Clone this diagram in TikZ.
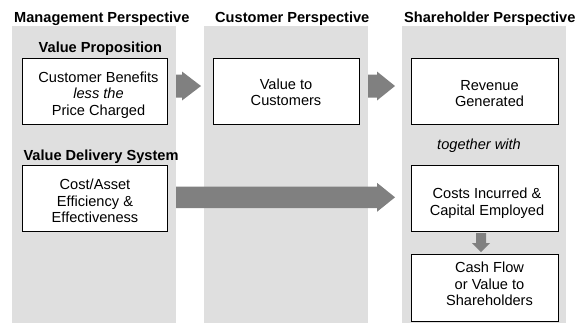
\documentclass[tikz,border=0pt]{standalone}
\usepackage{fontspec}
\setmainfont{Liberation Sans}
\usetikzlibrary{calc}
\definecolor{panelgray}{HTML}{DFDFDF}
\definecolor{arrowgray}{HTML}{808080}
% horizontal block arrow: #1 start, #2 tip, #3 head length, #4 shaft half height, #5 head half height
\newcommand\blockarrowH[5]{%
  \fill[blockarrow] ($(#1)+(0,-#4)$) -- ($(#2)+(-#3,-#4)$) -- ($(#2)+(-#3,-#5)$) -- (#2)
    -- ($(#2)+(-#3,#5)$) -- ($(#2)+(-#3,#4)$) -- ($(#1)+(0,#4)$) -- cycle;}
% vertical (downward) block arrow
\newcommand\blockarrowV[5]{%
  \fill[blockarrow] ($(#1)+(-#4,0)$) -- ($(#2)+(-#4,-#3)$) -- ($(#2)+(-#5,-#3)$) -- (#2)
    -- ($(#2)+(#5,-#3)$) -- ($(#2)+(#4,-#3)$) -- ($(#1)+(#4,0)$) -- cycle;}
\begin{document}
\begin{tikzpicture}[x=1pt,y=-1pt,
  panel/.style={fill=panelgray,draw=none,inner sep=0pt,outer sep=0pt,
    minimum width=164pt,minimum height=297pt,anchor=north west},
  box/.style={draw=black,line width=1pt,fill=white,inner sep=0pt,outer sep=0pt,anchor=north west},
  txt/.style={font=\fontsize{14.6}{16.5}\selectfont,align=center,inner sep=0pt},
  hdr/.style={font=\fontsize{14.6}{16.5}\selectfont\bfseries,inner sep=0pt,anchor=base west},
  blockarrow/.style={fill=arrowgray,draw=none}]
\useasboundingbox (0,0) rectangle (586,325);
% panels
\node[panel] (p1) at (12,26) {};
\node[panel] (p2) at (204,26) {};
\node[panel] (p3) at (402,26) {};
% headers
\node[hdr] (h1) at (14,22) {Management Perspective};
\node[hdr] (h2) at (215,22) {Customer Perspective};
\node[hdr] (h3) at (404,22) {Shareholder Perspective};
\node[hdr] (vp) at (38.5,52.7) {Value Proposition};
\node[hdr] (vds) at (23.3,160) {Value Delivery System};
\node[txt,anchor=base] (tw) at (479,149) {\itshape together with};
% boxes
\node[box,minimum width=145pt,minimum height=66pt] (b1) at (22,58) {};
\node[box,minimum width=146pt,minimum height=66pt] (b2) at (213,58) {};
\node[box,minimum width=147pt,minimum height=66pt] (b3) at (411,58) {};
\node[box,minimum width=145pt,minimum height=66pt] (b4) at (22,165) {};
\node[box,minimum width=147pt,minimum height=66pt] (b5) at (411,165) {};
\node[box,minimum width=147pt,minimum height=67pt] (b6) at (411,254) {};
% box texts
\node[txt] (t1) at ($(b1.center)+(4,4.2)$) {\strut Customer Benefits\\\strut\textit{less the}\\\strut Price Charged};
\node[txt] (t2) at ($(b2.center)+(0,3.4)$) {\strut Value to\\\strut Customers};
\node[txt] (t3) at ($(b3.center)+(5,4.2)$) {\strut Revenue\\\strut Generated};
\node[txt] (t4) at ($(b4.center)+(0.5,4.9)$) {\strut Cost/Asset\\\strut Efficiency \&\\\strut Effectiveness};
\node[txt] (t5) at ($(b5.center)+(2.5,5.6)$) {\strut Costs Incurred \&\\\strut Capital Employed};
\node[txt] (t6) at ($(b6.center)+(5,-1.4)$) {\strut Cash Flow\\\strut or Value to\\\strut Shareholders};
% arrows
\coordinate (a1s) at (p1.east |- 0,86);
\coordinate (a1e) at (201,86);
\coordinate (a2s) at (p2.east |- 0,86);
\coordinate (a2e) at (395,86);
\coordinate (a3s) at (p1.east |- 0,197.3);
\coordinate (a3e) at (395,197.3);
\coordinate (a4s) at (481,233);
\coordinate (a4e) at (481,252);
\blockarrowH{a1s}{a1e}{19}{11.5}{14.5}
\blockarrowH{a2s}{a2e}{18}{11.5}{14.5}
\blockarrowH{a3s}{a3e}{18}{10.8}{14.5}
\blockarrowV{a4s}{a4e}{9}{5}{9}
\end{tikzpicture}
\end{document}
